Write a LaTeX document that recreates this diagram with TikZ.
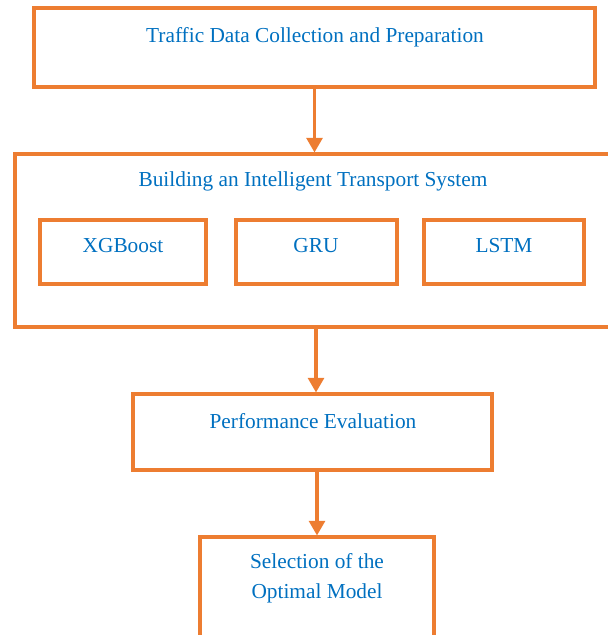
\documentclass[tikz,border=0pt]{standalone}
\usepackage{fontspec}
\setmainfont{Liberation Serif}
\usepackage{tikz}
\usetikzlibrary{arrows.meta, positioning, calc}

\definecolor{flowor}{RGB}{237,125,49}
\definecolor{flowbl}{RGB}{0,112,192}

\begin{document}
\begin{tikzpicture}[
    x=0.75pt, y=-0.75pt,
    box/.style={draw=flowor, line width=2.3pt, rectangle, inner sep=0pt},
    txt/.style={text=flowbl, font=\fontsize{16}{22.5}\selectfont, inner sep=0pt, align=center},
    arr/.style={draw=flowor, line width=2.3pt, -{Triangle[width=12pt, length=11pt]}},
]
\useasboundingbox (0,0) rectangle (607,635);

% stage 1: data
\node[box, minimum width=420.75pt, minimum height=59.25pt] (collect) at (314.5, 47.5) {};
\node[txt, anchor=base] (collectT) at (315, 43) {Traffic Data Collection and Preparation};

% stage 2: the system with its three models
\node[box, minimum width=451.5pt, minimum height=129.75pt] (its) at (316, 240.5) {};
\node[txt, anchor=base] (itsT) at (313, 186) {Building an Intelligent Transport System};
\node[box, minimum width=124.5pt, minimum height=48pt] (xgb) at (123, 252) {};
\node[box, minimum width=120.75pt, minimum height=48pt] (gru) at (316.5, 252) {};
\node[box, minimum width=120pt, minimum height=48pt] (lstm) at (504, 252) {};
\node[txt, anchor=base] (xgbT) at (123, 252) {XGBoost};
\node[txt, anchor=base] (gruT) at (316, 252) {GRU};
\node[txt, anchor=base] (lstmT) at (504, 252) {LSTM};

% stage 3: evaluation
\node[box, minimum width=269.25pt, minimum height=57pt] (perf) at (312.5, 432) {};
\node[txt, anchor=base] (perfT) at (313, 428) {Performance Evaluation};

% stage 4: choice (runs off the bottom)
\node[box, minimum width=175.5pt, minimum height=78pt] (select) at (317, 589) {};
\node[txt, anchor=base] (selectT) at (317, 598) {Selection of the\\Optimal Model};

% Arrows
\draw[arr] (collect.south) -- (collect.south |- its.north);
\draw[arr] (its.south) -- (its.south |- perf.north);
\draw[arr] (select.north |- perf.south) -- (select.north);

\end{tikzpicture}
\end{document}
